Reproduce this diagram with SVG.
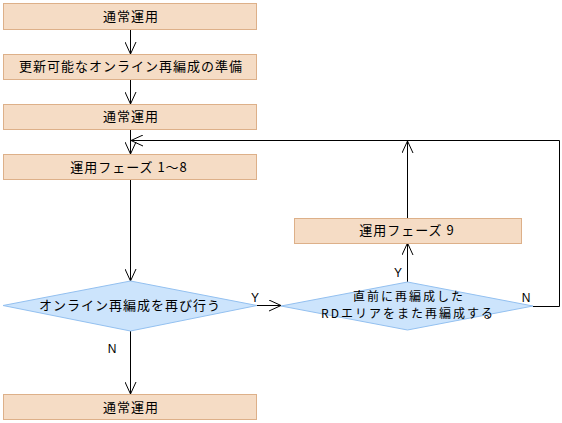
<svg xmlns="http://www.w3.org/2000/svg" width="562" height="423" viewBox="0 0 562 423">
<defs>
<style>
.box{fill:#F5DCC5;stroke:#DDB089;stroke-width:1}
.dia{fill:#CCE4FC;stroke:#93C0F0;stroke-width:1}
.t{font-family:"Noto Sans CJK JP","Noto Sans",sans-serif;font-size:13px;letter-spacing:1px;fill:#000;text-anchor:middle}
.t2{font-size:12px;letter-spacing:2px}
.lbl{font-family:"Liberation Sans","DejaVu Sans",sans-serif;font-size:12px;fill:#000;text-anchor:middle}
.c{fill:none;stroke:#000;stroke-width:1}
</style>
<marker id="ah" viewBox="0 0 12 12" refX="12" refY="6" markerWidth="12" markerHeight="12" markerUnits="userSpaceOnUse" orient="auto">
<path d="M0,0.5 L12,6 L0,11.5" fill="none" stroke="#000" stroke-width="1"/>
</marker>
</defs>
<rect width="562" height="423" fill="#fff"/>
<g id="connectors">
<line class="c" x1="130.5" y1="29" x2="130.5" y2="54" marker-end="url(#ah)"/>
<line class="c" x1="130.5" y1="79" x2="130.5" y2="104" marker-end="url(#ah)"/>
<line class="c" x1="130.5" y1="129" x2="130.5" y2="154" marker-end="url(#ah)"/>
<line class="c" x1="130.5" y1="180" x2="130.5" y2="281" marker-end="url(#ah)"/>
<line class="c" x1="130.5" y1="331" x2="130.5" y2="394" marker-end="url(#ah)"/>
<line class="c" x1="257" y1="305.5" x2="281" y2="305.5" marker-end="url(#ah)"/>
<line class="c" x1="407.5" y1="282" x2="407.5" y2="243" marker-end="url(#ah)"/>
<line class="c" x1="407.5" y1="218" x2="407.5" y2="141" marker-end="url(#ah)"/>
<polyline class="c" points="533,306.5 559.5,306.5 559.5,140.5 131,140.5" marker-end="url(#ah)"/>
<text class="lbl" x="255" y="302">Y</text>
<text class="lbl" x="112" y="353">N</text>
<text class="lbl" x="398" y="277">Y</text>
<text class="lbl" x="526" y="302">N</text>
</g>
<g id="n1"><rect class="box" x="3.5" y="3.5" width="253" height="26"/><text class="t" x="131" y="21">通常運用</text></g>
<g id="n2"><rect class="box" x="3.5" y="54.5" width="253" height="25"/><text class="t" x="131" y="71">更新可能なオンライン再編成の準備</text></g>
<g id="n3"><rect class="box" x="3.5" y="104.5" width="253" height="25"/><text class="t" x="131" y="121">通常運用</text></g>
<g id="n4"><rect class="box" x="3.5" y="154.5" width="253" height="25"/><text class="t" x="129" y="172">運用フェーズ 1～8</text></g>
<g id="d1"><polygon class="dia" points="3,305.5 130.5,281 257,305.5 130.5,331"/><text class="t" x="130" y="310">オンライン再編成を再び行う</text></g>
<g id="n5"><rect class="box" x="3.5" y="394.5" width="253" height="25"/><text class="t" x="131" y="412">通常運用</text></g>
<g id="n9"><rect class="box" x="294.5" y="218.5" width="227" height="25"/><text class="t" x="407" y="235">運用フェーズ 9</text></g>
<g id="d2"><polygon class="dia" points="281,306 407.5,282 533,306 407.5,330"/><text class="t t2" x="409" y="301">直前に再編成した</text><text class="t t2" x="408" y="318">RDエリアをまた再編成する</text></g>
</svg>
